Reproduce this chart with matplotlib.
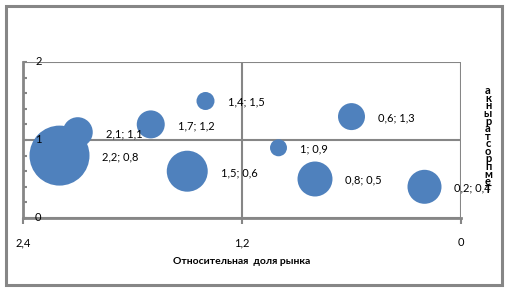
import numpy as np
import matplotlib.pyplot as plt
from matplotlib.patches import Rectangle

plt.rcParams['font.family'] = ['Lato', 'DejaVu Sans']

# %% Data: relative market share (x), market growth (y), bubble size
share = [2.2, 2.1, 1.7, 1.4, 1.5, 1.0, 0.6, 0.8, 0.2]
growth = [0.8, 1.1, 1.2, 1.5, 0.6, 0.9, 1.3, 0.5, 0.4]
volume = [9.0, 2.25, 1.96, 0.81, 4.2, 0.72, 1.82, 3.06, 2.89]

x_ticks = [2.4, 1.2, 0]
y_labels = [0, 1, 2]
x_title = "Относительная  доля рынка"
y_title = "Темп роста рынка"

GRAY = "#868686"
BLUE = "#4F81BD"
DPI = 100


def fmt(v):
    s = f"{v:g}"
    return s.replace(".", ",")


fig = plt.figure(figsize=(5.07, 2.89), dpi=DPI)

# outer chart frame
fig.patches.append(Rectangle((6 / 507, 4 / 289), 496 / 507, 279 / 289,
                             transform=fig.transFigure, fill=False,
                             edgecolor=GRAY, linewidth=2.2))

ax = fig.add_axes([23 / 507, 71 / 289, 438 / 507, 156 / 289])
ax.set_xlim(2.4, 0)
ax.set_ylim(0, 2)

# bubbles: radius in px = 10 * sqrt(volume)
r_px = 10 * np.sqrt(volume)
s = (2 * r_px * 72 / DPI) ** 2
order = np.argsort(volume)[::-1]
ax.scatter(np.array(share)[order], np.array(growth)[order], s=s[order],
           color=BLUE, edgecolors="none", zorder=3)

for xi, yi, r in zip(share, growth, r_px):
    ax.annotate(f"{fmt(xi)}; {fmt(yi)}", xy=(xi, yi), xycoords="data",
                xytext=((r + 13) * 72 / DPI, -1), textcoords="offset points",
                ha="left", va="center", fontsize=8, zorder=4)

# gridlines / axes
ax.set_xticks(x_ticks)
ax.set_xticklabels([fmt(v) for v in x_ticks], fontsize=8)
ax.set_yticks(y_labels)
ax.set_yticks(np.arange(0, 2.01, 0.2), minor=True)
ax.set_yticklabels([])
ax.grid(True, which="major", color=GRAY, linewidth=1.5)
for side in ["top", "right"]:
    ax.spines[side].set_visible(False)
for side in ["left", "bottom"]:
    ax.spines[side].set_color(GRAY)
    ax.spines[side].set_linewidth(2)
ax.tick_params(axis="x", direction="out", length=4, width=1.5, color=GRAY, pad=10)
ax.tick_params(axis="y", which="both", direction="in", length=3, width=1.5,
               color=GRAY, left=True)

for v in y_labels:
    ax.annotate(fmt(v), xy=(0, v), xycoords=ax.get_yaxis_transform(),
                xytext=(11, 0.5), textcoords="offset points",
                ha="center", va="center", fontsize=8, zorder=5)

ax.set_xlabel(x_title, fontsize=7.5, fontweight="bold", labelpad=6)

# stacked vertical axis title (letters upright, read bottom-to-top)
stacked = "\n".join(c for c in y_title[::-1] if c != " ")
fig.text(488 / 507, 1 - 140 / 289, stacked, fontsize=8, fontweight="bold",
         ha="center", va="center", linespacing=0.62, multialignment="center")

fig.savefig("out.png", dpi=DPI)
